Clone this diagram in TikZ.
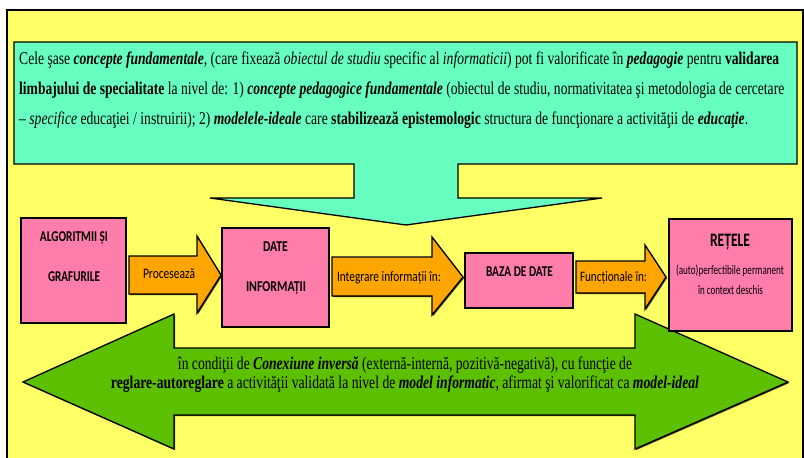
\documentclass[tikz,border=0pt]{standalone}
\usepackage{fontspec}
\usepackage{graphicx}
\setmainfont{Liberation Serif}
\newfontfamily\tnr{Liberation Serif}
\newfontfamily\calib{Carlito}
\usetikzlibrary{shadows}

\definecolor{bgyellow}{HTML}{FFFF66}
\definecolor{callout}{HTML}{66FFC0}
\definecolor{boxpink}{HTML}{FF7DAA}
\definecolor{arrorange}{HTML}{FFA500}
\definecolor{arrgreen}{HTML}{5CBF00}

% squeeze a line of text horizontally to a given width (in pt)
\newcommand{\fitw}[2]{\resizebox{#1pt}{\height}{#2}}
\newcommand{\bi}[1]{\textbf{\textit{#1}}}

\tikzset{
  outline/.style={draw=black, line width=1.3pt, line join=miter},
  softshadow/.style={drop shadow={shadow xshift=1.1pt, shadow yshift=-1.1pt, fill=black, opacity=0.75}},
  pinkbox/.style={outline, fill=boxpink, softshadow, inner sep=0pt},
  blockarrow/.style={outline, fill=arrorange, softshadow},
  serifline/.style={font=\tnr\fontsize{18}{20}\selectfont, inner sep=0pt, anchor=base west},
  serifmid/.style={font=\tnr\fontsize{18}{20}\selectfont, inner sep=0pt, anchor=base},
  boxtitle/.style={font=\calib\bfseries\fontsize{15}{17}\selectfont, inner sep=0pt, anchor=mid},
  arrowlbl/.style={font=\calib\fontsize{14.5}{16}\selectfont, inner sep=0pt, anchor=mid},
  smallsans/.style={font=\calib\fontsize{13}{15}\selectfont, inner sep=0pt, anchor=mid},
}

\begin{document}
\begin{tikzpicture}[x=1pt,y=-1pt]
\useasboundingbox (0,0) rectangle (804,458);
\clip (0,0) rectangle (804,458);
\fill[white] (0,0) rectangle (804,458);

% outer frame
\draw[outline, fill=bgyellow] (7,10) rectangle (803,475);

% top callout with its downward arrow
\draw[outline, fill=callout]
  (14,42) -- (797,42) -- (797,164) -- (458,164) -- (458,198) -- (602,198)
  -- (406,225) -- (210,198) -- (354,198) -- (354,164) -- (14,164) -- cycle;

\node[serifline] (c1) at (19,64) {\fitw{760}{Cele şase \bi{concepte fundamentale}, (care fixează \textit{obiectul de studiu} specific al \textit{informaticii}) pot fi valorificate în \bi{pedagogie} pentru \textbf{validarea}}};
\node[serifline] (c2) at (19,94) {\fitw{765}{\textbf{limbajului de specialitate} la nivel de: 1) \bi{concepte pedagogice fundamentale} (obiectul de studiu, normativitatea şi metodologia de cercetare}};
\node[serifline] (c3) at (19,124) {\fitw{729}{– \textit{specifice} educaţiei / instruirii); 2) \bi{modelele-ideale} care \textbf{stabilizează epistemologic} structura de funcţionare a activităţii de \bi{educaţie}.}};

% feedback double arrow
\draw[outline, fill=arrgreen, softshadow]
  (23,382) -- (174,314) -- (174,348) -- (635,348) -- (635,314) -- (788,382)
  -- (635,449) -- (635,415) -- (174,415) -- (174,449) -- cycle;
\node[serifmid] (g1) at (405,369) {\fitw{454}{în condiţii de \bi{Conexiune inversă} (externă-internă, pozitivă-negativă), cu funcţie de}};
\node[serifmid] (g2) at (405,388) {\fitw{588}{\textbf{reglare-autoreglare} a activităţii validată la nivel de \bi{model informatic}, afirmat şi valorificat ca \bi{model-ideal}}};

% process boxes
\node[pinkbox, minimum width=105pt, minimum height=105pt] (alg) at (73.5,270.5) {};
\node[pinkbox, minimum width=107pt, minimum height=99pt] (date) at (275.5,277.5) {};
\node[pinkbox, minimum width=108pt, minimum height=55pt] (baza) at (519,280.5) {};
\node[pinkbox, minimum width=123pt, minimum height=112pt] (retele) at (730.5,275) {};

\node[boxtitle] (alg1) at (74,239) {\fitw{68}{ALGORITMII ȘI}};
\node[boxtitle] (alg2) at (74,279) {\fitw{52}{GRAFURILE}};
\node[boxtitle] (date1) at (275.5,249) {\fitw{25}{DATE}};
\node[boxtitle] (date2) at (276,289) {\fitw{60}{INFORMAȚII}};
\node[boxtitle] (baza1) at (519.5,274) {\fitw{67}{BAZA DE DATE}};
\node[boxtitle, font=\calib\bfseries\fontsize{19}{21}\selectfont] (ret1) at (730,244) {\fitw{40}{REȚELE}};
\node[smallsans] (ret2) at (730,272) {\fitw{108}{(auto)perfectibile permanent}};
\node[smallsans] (ret3) at (730.5,292) {\fitw{65}{în context deschis}};

% block arrows between the boxes
\draw[blockarrow] (129,256) -- (197,256) -- (197,236) -- (221,275) -- (197,313) -- (197,294) -- (129,294) -- cycle;
\draw[blockarrow] (332,257) -- (432,257) -- (432,237) -- (463,277) -- (432,315) -- (432,296) -- (332,296) -- cycle;
\draw[blockarrow] (576,261) -- (645,261) -- (645,245) -- (666,277) -- (645,309) -- (645,293) -- (576,293) -- cycle;

\node[arrowlbl] (a1) at (169,276) {\fitw{52}{Procesează}};
\node[arrowlbl] (a2) at (389,279) {\fitw{104}{Integrare informații în:}};
\node[arrowlbl] (a3) at (613.5,279) {\fitw{67}{Funcționale în:}};
\end{tikzpicture}
\end{document}
